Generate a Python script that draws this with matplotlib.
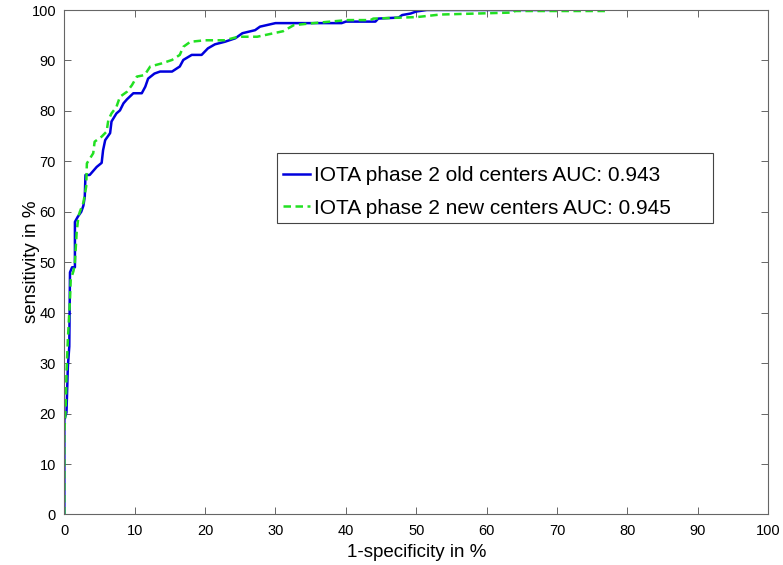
''' ROC curves of IOTA phase 2 old vs new centers '''

import matplotlib
matplotlib.use('Agg')
import matplotlib.pyplot as plt
from matplotlib.patches import Rectangle

# 1-specificity (%) and sensitivity (%)
fpr_old = [0, 0, 0.3, 0.5, 0.7, 0.8, 1.1, 1.5, 1.5, 1.9, 2.4, 2.7, 2.9, 3.0, 3.6,
           4.6, 5.3, 5.5, 5.8, 6.5, 6.7, 7.4, 7.9, 8.4, 8.9, 9.8, 11.0, 11.5,
           11.9, 12.8, 13.6, 15.3, 16.4, 16.9, 18.1, 19.5, 20.4, 21.4, 22.8,
           24.3, 25.3, 27.1, 27.8, 30.0, 39.4, 40.0, 44.2, 44.6, 47.5, 48.0,
           49.2, 50.0, 51.5, 68.8]
tpr_old = [0, 18.8, 20.2, 29.4, 33.3, 48.0, 49.0, 49.0, 58.0, 59.0, 60.0, 61.2,
           63.0, 67.3, 67.3, 68.9, 69.7, 72.2, 74.2, 75.6, 77.9, 79.5, 80.1,
           81.5, 82.3, 83.5, 83.5, 84.8, 86.4, 87.4, 87.8, 87.8, 88.8, 90.1,
           91.1, 91.1, 92.4, 93.2, 93.7, 94.4, 95.4, 96.0, 96.7, 97.4, 97.4,
           97.7, 97.7, 98.3, 98.5, 99.0, 99.3, 99.7, 100, 100]

fpr_new = [0, 0, 0.2, 0.3, 0.5, 0.8, 0.9, 1.3, 1.5, 1.75, 2.0, 2.2, 2.7, 3.1,
           3.2, 4.1, 4.3, 5.3, 6.0, 6.25, 6.7, 7.4, 7.9, 8.9, 9.6, 10.3, 11.4,
           12.2, 13.8, 15.3, 16.4, 16.9, 17.9, 20.0, 22.8, 24.7, 27.4, 31.1,
           32.6, 35.4, 40.2, 43.5, 43.9, 50.1, 53.4, 63.8, 64.0, 77.1, 77.4]
tpr_new = [0, 16.4, 21.5, 28.0, 34.8, 42.6, 46.5, 48.3, 50.0, 56.0, 59.1, 60.0,
           61.8, 65.0, 69.6, 71.6, 73.9, 74.9, 75.9, 78.2, 79.5, 80.8, 82.8,
           83.8, 85.1, 86.8, 87.1, 88.8, 89.4, 90.1, 91.1, 92.7, 93.7, 94.0,
           94.0, 94.7, 94.7, 95.8, 97.0, 97.4, 98.0, 98.0, 98.3, 98.6, 99.1,
           99.5, 99.8, 99.8, 100]

ticks = list(range(0, 101, 10))

plt.rcParams['font.family'] = ['Liberation Sans', 'DejaVu Sans']

fig = plt.figure(figsize=(7.83, 5.65), dpi=100)
ax = fig.add_axes([0.0822, 0.0894, 0.8988, 0.8929])

ax.plot(fpr_old, tpr_old, color='#0000dd', lw=1.8,
        label='IOTA phase 2 old centers AUC: 0.943')
ax.plot(fpr_new, tpr_new, color='#22e022', lw=1.8, ls=(0, (3, 1.8)),
        label='IOTA phase 2 new centers AUC: 0.945')

ax.set_xlim(0, 100)
ax.set_ylim(0, 100)
ax.set_xticks(ticks)
ax.set_yticks(ticks)
ax.tick_params(direction='in', length=5, width=0.7, color='#666666',
               labelsize=10.5, top=True, right=True)
ax.tick_params(axis='x', pad=7)
ax.tick_params(axis='y', pad=6)
for s in ax.spines.values():
    s.set_color('#666666')
    s.set_linewidth(0.8)

ax.set_xlabel('1-specificity in %', fontsize=13.5, labelpad=4)
ax.set_ylabel('sensitivity in %', fontsize=13.5, labelpad=-6)

# MATLAB style legend: text hugs the left side, wide empty margin on the right
leg = ax.legend(loc='upper left', bbox_to_anchor=(0.302, 0.703),
                borderaxespad=0, fontsize=15, handlelength=1.3,
                handletextpad=0.2, borderpad=0.3, labelspacing=0.65,
                frameon=False)
ax.add_patch(Rectangle((0.302, 0.578), 0.62, 0.1386, transform=ax.transAxes,
                       facecolor='white', edgecolor='#444444', lw=0.8,
                       zorder=4.5))
leg.set_zorder(5)

fig.savefig('out.png', dpi=100)
